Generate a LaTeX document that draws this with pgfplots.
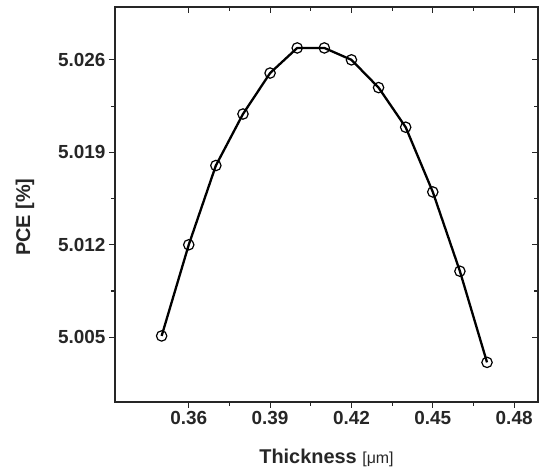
\documentclass[border=0pt]{standalone}
\usepackage{pgfplots}
\pgfplotsset{compat=1.18}
\usepackage{fontspec}
\setmainfont{Liberation Sans}
\begin{document}
\begin{tikzpicture}
\useasboundingbox (-115bp,-73bp) rectangle (427bp,402bp);
\pgfplotsset{
  common/.style={
    scale only axis, width=423bp, height=395bp,
    at={(0,0)}, anchor=south west,
    xmin=0.3328, xmax=0.4888, ymin=5.0001, ymax=5.0300,
    xtick={0.36,0.39,0.42,0.45,0.48},
    ytick={5.005,5.012,5.019,5.026},
    minor x tick num=1, minor y tick num=1,
    axis line style={line width=1.3bp, black!85},
    major tick length=6bp, minor tick length=4bp,
    every tick/.style={line width=1.1bp, black!85},
  }
}
\begin{axis}[common,
  xtick pos=bottom, ytick pos=left, tick align=outside,
  /pgf/number format/assume math mode=true,
  ticklabel style={font=\fontsize{19}{22}\selectfont\bfseries, text=black!85},
  xticklabel style={/pgf/number format/fixed, /pgf/number format/precision=2, /pgf/number format/fixed zerofill},
  yticklabel style={/pgf/number format/fixed, /pgf/number format/precision=3, /pgf/number format/fixed zerofill},
  xlabel={\bfseries Thickness {\fontsize{16}{18}\selectfont\mdseries[μm]}},
  ylabel={\bfseries PCE [\%]},
  label style={font=\fontsize{20}{24}\selectfont, text=black!85},
  xlabel style={at={(axis description cs:0.5,-0.142)}, anchor=center},
  ylabel style={at={(axis description cs:-0.213,0.468)}, anchor=center, rotate=0},
]
\addplot[line width=2.3bp, black, mark=o, mark size=5.2bp, mark options={fill=white, line width=1.2bp}]
coordinates {
(0.35,5.0051) (0.36,5.0120) (0.37,5.0180) (0.38,5.0219) (0.39,5.0250)
(0.40,5.0269) (0.41,5.0269) (0.42,5.0260) (0.43,5.0239) (0.44,5.0209)
(0.45,5.0160) (0.46,5.0100) (0.47,5.0031)
};
\end{axis}
\begin{axis}[common,
  xtick pos=top, ytick pos=right, tick align=inside,
  xticklabels={}, yticklabels={}, axis line style={draw=none},
]
\addplot[draw=none] coordinates {(0.35,5.01)};
\end{axis}
\end{tikzpicture}
\end{document}
